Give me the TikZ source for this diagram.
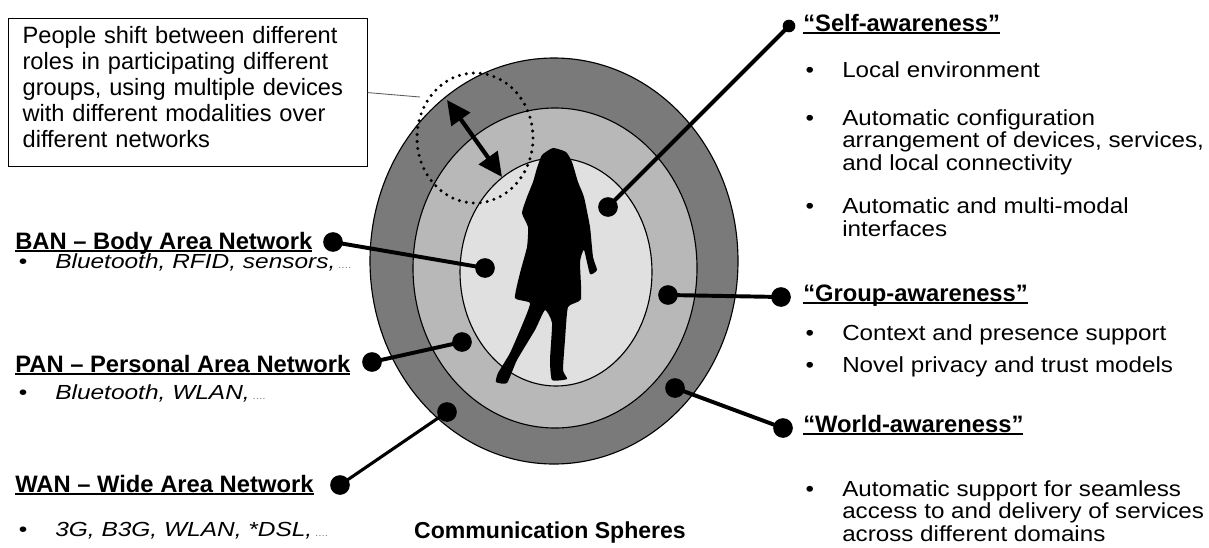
\documentclass[tikz,border=0pt]{standalone}
\usepackage{fontspec}
\setmainfont{Liberation Sans}
\newfontfamily\techfont[FakeStretch=1.2]{Liberation Sans}
\newfontfamily\bodyfont[FakeStretch=1.11]{Liberation Sans}
\usepackage{tikz}
\usetikzlibrary{positioning}
\usetikzlibrary{arrows.meta}

\tikzset{
  dot/.style={circle,fill=black,inner sep=0pt,minimum size=14pt},
  smalldot/.style={circle,fill=black,inner sep=0pt,minimum size=9pt},
  link/.style={line width=2.8pt},
  head/.style={anchor=base west,inner sep=0pt,font=\bfseries\fontsize{16.9}{18}\selectfont},
  point/.style={anchor=base west,inner sep=0pt,align=left,font=\bodyfont\fontsize{15.5}{16}\selectfont},
  tech/.style={anchor=base west,inner sep=0pt,font=\techfont\itshape\fontsize{14.5}{16}\selectfont},
}
% underlined heading, rule sits just under the baseline
\newcommand{\ulabel}[1]{\setbox0\hbox{#1}\rlap{\rule[-2.2pt]{\wd0}{1.2pt}}\box0}
\newcommand{\bul}{\llap{\textbullet\hskip 20pt}}
\newcommand{\more}{{\color{gray}\scriptsize\ ....}}

\begin{document}
\begin{tikzpicture}[x=0.025cm,y=-0.025cm]
\useasboundingbox (0,0) rectangle (1209,547);

% the three spheres
\draw[line width=0.8pt,fill=black!52] (554,261) ellipse [x radius=184, y radius=203];
\draw[line width=0.8pt,fill=black!28] (555,268) ellipse [x radius=142, y radius=160];
\draw[line width=0.8pt,fill=black!12] (556,272) ellipse [x radius=96, y radius=114];

% person in the middle
\fill plot[smooth cycle,tension=0.3] coordinates {
  (553,148) (566,152) (572,162) (578,182) (584,197) (590,227) (593,257) (597,270)
  (590,274) (584,250) (580,262) (581,299) (568,307) (565,340) (563,370)
  (567,379) (552,380) (550,360) (552,323) (545,310) (535,330) (517,360)
  (507,383) (496,382) (498,373) (510,353) (523,323) (530,303) (515,298)
  (520,273) (527,247) (528,227) (522,213) (527,197) (533,182) (537,168)
  (542,155)};

% roles
\draw[line width=2.4pt,dash pattern=on 0pt off 5pt,line cap=round]
  (475,138) ellipse [x radius=58, y radius=65];
\coordinate (outer) at (447,100);
\coordinate (inner) at (502,177);
\draw[line width=3pt,{Triangle[length=17pt,width=16pt]}-{Triangle[length=17pt,width=16pt]}] (outer) -- (inner);

\node[draw,line width=0.8pt,anchor=north west,text width=235pt,inner xsep=10pt,inner ysep=0pt,
  align=left,font=\fontsize{16.8}{18.5}\selectfont] (note) at (8,18)
  {\rule{0pt}{17.8pt}People shift between different\\
   roles in participating different\\
   groups, using multiple devices\\
   with different modalities over\\
   different networks\rule[-13.5pt]{0pt}{0pt}};
\coordinate (roles) at (420,97);
\draw[line width=0.6pt,gray!70!black] (note.east) -- (roles);

% networks on the left
\node[dot] (ban) at (333,242) {};
\node[dot] (banin) at (485,268) {};
\node[dot] (pan) at (372,362) {};
\node[dot] (panin) at (462,342) {};
\node[dot] (wan) at (340,485) {};
\node[dot] (wanin) at (447,412) {};
\draw[link] (ban.center) -- (banin.center);
\draw[link] (pan.center) -- (panin.center);
\draw[link,line width=2.2pt] (wan.center) -- (wanin.center);

\node[head] (banl) at (15,249) {\ulabel{BAN -- Body Area Network}};
\node[tech] (bant) at (55,268) {\bul Bluetooth, RFID, sensors,\more};
\node[head] (panl) at (15,372) {\ulabel{PAN -- Personal Area Network}};
\node[tech] (pant) at (55,399) {\bul Bluetooth, WLAN,\more};
\node[head] (wanl) at (15,492) {\ulabel{WAN -- Wide Area Network}};
\node[tech] (want) at (55,536) {\bul 3G, B3G, WLAN, *DSL,\more};

% awareness on the right
\node[smalldot] (self) at (789,26) {};
\node[dot] (selfin) at (608,207) {};
\node[dot] (group) at (781,297) {};
\node[dot] (groupin) at (668,295) {};
\node[dot] (world) at (783,428) {};
\node[dot] (worldin) at (675,388) {};
\draw[link] (self.center) -- (selfin.center);
\draw[link] (group.center) -- (groupin.center);
\draw[link] (world.center) -- (worldin.center);

% multi-line entries sit on the baseline of their last line
\node[head] (selfl) at (803,31) {\ulabel{“Self-awareness”}};
\node[point] (s1) at (842,77) {\bul Local environment};
\node[point] (s2) at (842,170) {\bul Automatic configuration\\arrangement of devices, services,\\and local connectivity};
\node[point] (s3) at (842,236) {\bul Automatic and multi-modal\\interfaces};

\node[head] (groupl) at (803,301) {\ulabel{“Group-awareness”}};
\node[point] (g1) at (842,340) {\bul Context and presence support};
\node[point] (g2) at (842,372) {\bul Novel privacy and trust models};

\node[head] (worldl) at (803,432) {\ulabel{“World-awareness”}};
\node[point] (w1) at (842,541) {\bul Automatic support for seamless\\access to and delivery of services\\across different domains};

\node[anchor=base,inner sep=0pt,font=\bfseries\fontsize{16.4}{18}\selectfont] (title) at (550,538) {Communication Spheres};
\end{tikzpicture}
\end{document}
